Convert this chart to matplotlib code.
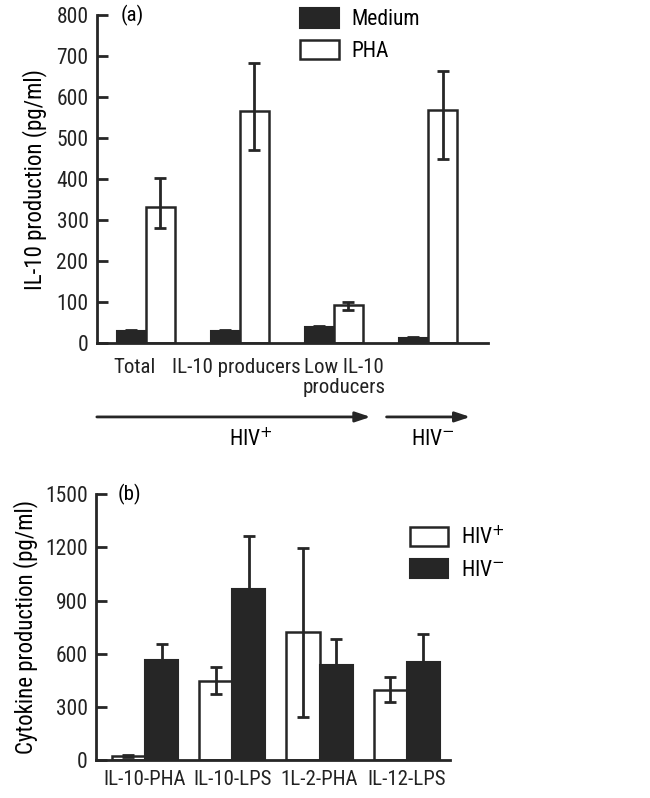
import numpy as np
import matplotlib
matplotlib.use('Agg')
import matplotlib.pyplot as plt
from matplotlib.transforms import ScaledTranslation

plt.rcParams['font.family'] = ['Roboto Condensed', 'Roboto', 'DejaVu Sans']
plt.rcParams['font.size'] = 15

DARK = '#262626'

# Panel (a) data
groups_a = ['Total', 'IL-10 producers', 'Low IL-10\nproducers', '']
medium = [29, 30, 39, 13]
medium_lo = [2, 2, 3, 2]
medium_hi = [2, 2, 3, 2]
pha = [333, 567, 93, 569]
pha_lo = [53, 97, 11, 119]
pha_hi = [71, 117, 7, 94]

# Panel (b) data
groups_b = ['IL-10-PHA', 'IL-10-LPS', '1L-2-PHA', 'IL-12-LPS']
hiv_pos = [23, 447, 720, 393]
hiv_pos_lo = [5, 75, 479, 68]
hiv_pos_hi = [5, 77, 479, 75]
hiv_neg = [564, 968, 536, 553]
hiv_neg_err = [90, 297, 146, 156]

fig = plt.figure(figsize=(6.5, 7.98), dpi=100)

err_kw = dict(ecolor=DARK, elinewidth=2, capsize=4.3, capthick=2)


def style_axes(ax):
    for s in ['top', 'right']:
        ax.spines[s].set_visible(False)
    for s in ['left', 'bottom']:
        ax.spines[s].set_linewidth(2)
        ax.spines[s].set_color(DARK)
    ax.tick_params(axis='y', direction='in', length=8, width=2, pad=6,
                   colors=DARK, labelcolor='#222222', labelsize=15.5)


# ---------- (a) ----------
ax1 = fig.add_axes([0.149, 0.570, 0.602, 0.411])
x = np.arange(len(groups_a))
w = 0.31
ax1.bar(x - w / 2, medium, w, color=DARK, edgecolor=DARK, linewidth=1.5,
        yerr=[medium_lo, medium_hi], error_kw=err_kw, label='Medium')
ax1.bar(x + w / 2, pha, w, color='white', edgecolor=DARK, linewidth=1.8,
        yerr=[pha_lo, pha_hi], error_kw=err_kw, label='PHA')
ax1.set_xlim(-0.52, 3.64)
ax1.set_ylim(0, 800)
ax1.set_yticks(range(0, 801, 100))
ax1.set_xticks(x)
ax1.set_xticklabels(groups_a, fontsize=15, color='#222222', linespacing=1.05)
ax1.tick_params(axis='x', length=0, pad=11)
style_axes(ax1)
# nudge category labels like the original typesetting
for lab, dx in zip(ax1.get_xticklabels(), [-11, -4, 10, 0]):
    lab.set_transform(lab.get_transform() + ScaledTranslation(dx / 100, 0, fig.dpi_scale_trans))
ax1.set_ylabel('IL-10 production (pg/ml)', labelpad=7, fontsize=16.5)
ax1.text(0.06, 1.0, '(a)', transform=ax1.transAxes, va='center', ha='left')
ax1.legend(loc='upper left', bbox_to_anchor=(0.47, 1.08), frameon=False,
           handlelength=1.8, handleheight=1.0, handletextpad=0.6,
           labelspacing=0.45, fontsize=15.5)

# HIV group arrows under panel (a)
tr = ax1.get_xaxis_transform()
for x0, x1 in [(-0.52, 2.39), (2.56, 3.45)]:
    ax1.annotate('', xy=(x1, -0.225), xytext=(x0, -0.225), xycoords=tr,
                 textcoords=tr, annotation_clip=False,
                 arrowprops=dict(arrowstyle='-|>,head_length=0.6,head_width=0.2',
                                 color=DARK, lw=2, shrinkA=0, shrinkB=0))
ax1.text(1.12, -0.295, 'HIV$^{+}$', transform=tr, ha='center', va='center',
         fontsize=15.5)
ax1.text(3.05, -0.295, 'HIV$^{-}$', transform=tr, ha='center', va='center',
         fontsize=15.5)

# ---------- (b) ----------
ax2 = fig.add_axes([0.148, 0.0476, 0.545, 0.333])
xb = np.arange(len(groups_b))
wb = 0.38
ax2.bar(xb - wb / 2, hiv_pos, wb, color='white', edgecolor=DARK, linewidth=1.8,
        yerr=[hiv_pos_lo, hiv_pos_hi], error_kw=err_kw, label='HIV$^{+}$')
ax2.bar(xb + wb / 2, hiv_neg, wb, color=DARK, edgecolor=DARK, linewidth=1.5,
        yerr=[[0] * 4, hiv_neg_err], error_kw=err_kw, label='HIV$^{-}$')
ax2.set_xlim(-0.56, 3.5)
ax2.set_ylim(0, 1500)
ax2.set_yticks(range(0, 1501, 300))
ax2.set_xticks(xb)
ax2.set_xticklabels(groups_b, fontsize=15, color='#222222')
ax2.tick_params(axis='x', length=0, pad=7)
style_axes(ax2)
ax2.set_ylabel('Cytokine production (pg/ml)', labelpad=5, fontsize=16.5)
ax2.text(0.06, 1.0, '(b)', transform=ax2.transAxes, va='center', ha='left')
ax2.legend(loc='upper left', bbox_to_anchor=(0.83, 0.955), frameon=False,
           handlelength=1.8, handleheight=1.0, handletextpad=0.6,
           labelspacing=0.45, fontsize=15.5)

fig.savefig('out.png', dpi=100)
